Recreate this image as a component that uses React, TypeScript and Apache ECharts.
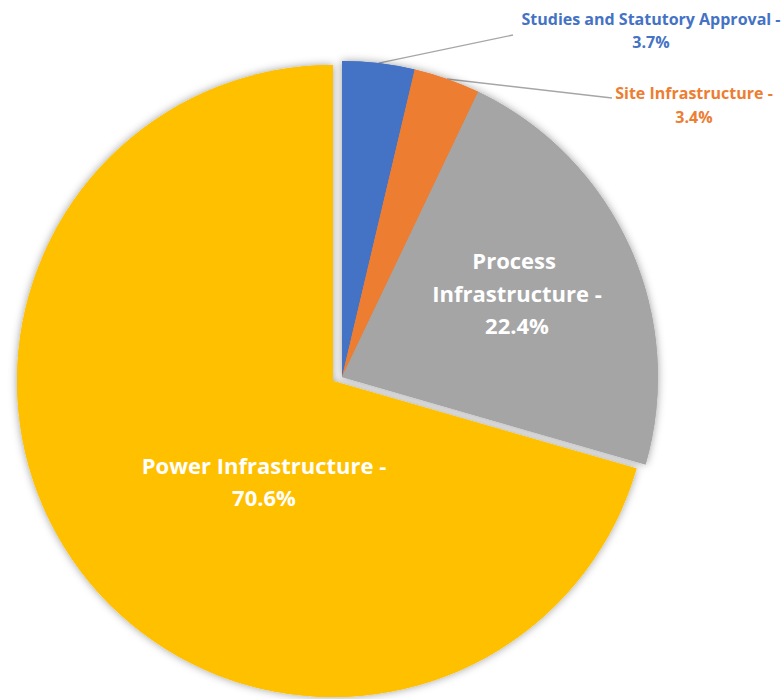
import React, { useEffect, useRef } from "react";
import * as echarts from "echarts";

const categories = [
  "Studies and Statutory Approval",
  "Site Infrastructure",
  "Process Infrastructure",
  "Power Infrastructure",
];
const values = [3.7, 3.4, 22.4, 70.6];
const colors = ["#4472C4", "#ED7D31", "#A5A5A5", "#FFC000"];

// layout (not data)
const groupOf = [0, 0, 0, 1];
const centers: [number, number][] = [
  [342, 377],
  [333, 381],
];
const RADIUS = 316;
const labelPos: [number, number][] = [
  [651, 30.5],
  [694, 105],
  [517, 292.5],
  [264, 481],
];
const lineEnds: ([number, number] | null)[] = [[513, 35], [612, 98], null, null];
const FONT = "'Open Sans', 'Noto Sans', sans-serif";

export default function App() {
  const ref = useRef<HTMLDivElement>(null);
  useEffect(() => {
    if (!ref.current) return;
    const chart = echarts.init(ref.current, undefined, { renderer: "svg" });
    const total = values.reduce((a, b) => a + b, 0);

    const bisectorPoint = (i: number, g: number): [number, number] => {
      let start = 0;
      for (let k = 0; k < i; k++) start += values[k];
      const mid = ((start + values[i] / 2) / total) * Math.PI * 2;
      const c = centers[g];
      return [c[0] + RADIUS * Math.sin(mid), c[1] - RADIUS * Math.cos(mid)];
    };

    const series: any[] = [];
    // shadow layers
    [0, 1].forEach((g) => {
      series.push({
        type: "pie",
        center: centers[g],
        radius: RADIUS,
        startAngle: 90,
        clockwise: true,
        silent: true,
        avoidLabelOverlap: false,
        emphasis: { disabled: true },
        label: { show: false },
        labelLine: { show: false },
        data: categories.map((name, i) => ({
          name,
          value: values[i],
          itemStyle:
            groupOf[i] === g
              ? {
                  color: colors[i],
                  borderWidth: 0,
                  shadowBlur: 9,
                  shadowColor: "rgba(0,0,0,0.38)",
                  shadowOffsetX: 0,
                  shadowOffsetY: 0,
                }
              : { color: "rgba(0,0,0,0)", borderWidth: 0, shadowBlur: 0 },
        })),
      });
    });
    // visible layers
    [0, 1].forEach((g) => {
      series.push({
        type: "pie",
        center: centers[g],
        radius: RADIUS,
        startAngle: 90,
        clockwise: true,
        silent: true,
        avoidLabelOverlap: false,
        emphasis: { disabled: true },
        data: categories.map((name, i) => {
          const mine = groupOf[i] === g;
          const outside = i < 2;
          return {
            name,
            value: values[i],
            itemStyle: {
              color: mine ? colors[i] : "rgba(0,0,0,0)",
              borderWidth: 0,
            },
            label: mine
              ? {
                  show: true,
                  position: outside ? "outside" : "inside",
                  formatter: `${name} -\n${values[i].toFixed(1)}%`,
                  color: outside ? colors[i] : "#ffffff",
                  fontFamily: FONT,
                  fontWeight: "bold",
                  fontSize: outside ? 16 : 22,
                  lineHeight: outside ? 23.5 : 32.5,
                  align: "center",
                  width: i === 2 ? 200 : undefined,
                  overflow: i === 2 ? "break" : undefined,
                }
              : { show: false },
            labelLine: mine && outside
              ? {
                  show: true,
                  length: 10,
                  length2: 10,
                  lineStyle: { color: "#A6A6A6", width: 1.4 },
                }
              : { show: false },
          };
        }),
        labelLayout: (params: any) => {
          const i = params.dataIndex;
          if (groupOf[i] !== g) return {};
          const [x, y] = labelPos[i];
          const res: any = { x, y, align: "center", verticalAlign: "middle" };
          const end = lineEnds[i];
          if (end) {
            const start =
              params.labelLinePoints && params.labelLinePoints[0]
                ? params.labelLinePoints[0]
                : bisectorPoint(i, g);
            res.labelLinePoints = [start, end];
          }
          return res;
        },
      });
    });

    chart.setOption({
      animation: false,
      backgroundColor: "#ffffff",
      series,
    });
    return () => chart.dispose();
  }, []);
  return (
    <div
      ref={ref}
      style={{ position: "absolute", left: 0, top: 0, width: 783, height: 699 }}
    />
  );
}
